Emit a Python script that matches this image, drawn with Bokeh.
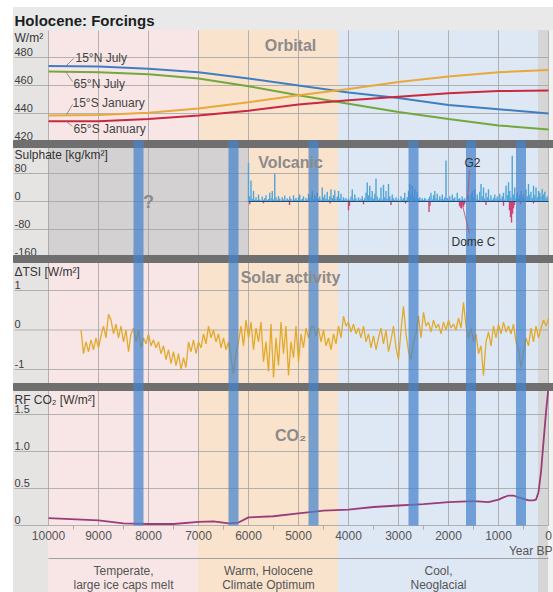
from bokeh.plotting import figure
from bokeh.models import Range1d
from bokeh.core.properties import value
from bokeh.embed import file_html
from bokeh.resources import INLINE

# ---------------------------------------------------------------- data
title = "Holocene: Forcings"

x_ticks = [10000, 9000, 8000, 7000, 6000, 5000, 4000, 3000, 2000, 1000, 0]
x_tick_labels = ["10000", "9000", "8000", "7000", "6000", "5000", "4000",
                 "3000", "2000", "1000", "0"]
x_minor_ticks = [9500, 8500, 7500, 6500, 5500, 4500, 3500, 2500, 1500, 500]

# climate periods (years BP)
period_start = [10000, 7000, 4200]
period_end = [7000, 4200, 200]
period_line1 = ["Temperate,", "Warm, Holocene", "Cool,"]
period_line2 = ["large ice caps melt", "Climate Optimum", "Neoglacial"]
recent_start, recent_end = 200, 0

# cold events (blue bands)
event_start = [8300, 6400, 4800, 2800, 1650, 650]
event_end = [8100, 6200, 4600, 2600, 1450, 450]

# --- Orbital insolation (W/m2)
orb_years = [10000, 9000, 8000, 7000, 6000, 5000, 4000, 3000, 2000, 1000, 0]
orb_15n_jul = [474, 473.5, 472, 469.5, 465, 460, 455, 451, 446, 443, 440]
orb_65n_jul = [470, 469.5, 468, 465, 459.5, 453, 447, 441, 436, 431.5, 428.5]
orb_15s_jan = [438.5, 439, 440.5, 443.5, 448, 453, 457.5, 462.5, 466.5, 469.5, 471]
orb_65s_jan = [434.5, 434.5, 436, 438.5, 442, 446.5, 449.5, 452, 454.5, 456, 456.5]
orb_names = ["15°N July", "65°N July", "15°S January", "65°S January"]
orb_ticks = [480, 460, 440, 420]
orb_tick_labels = ["480", "460", "440", "420"]

# --- Volcanic sulphate (kg/km2), 25-year steps from 6000 BP
vol_first_year, vol_step = 6000, 25
sulphate_pos = [
    110, 15, 60, 8, 31, 5, 12, 4, 20, 6, 3, 14, 5, 9, 18, 4, 7, 25, 10, 30,
    6, 80, 12, 5, 15, 8, 3, 12, 6, 17, 4, 9, 5, 14, 7, 3, 18, 6, 10, 4,
    12, 20, 5, 8, 15, 3, 10, 6, 22, 9, 14, 31, 6, 18, 10, 25, 8, 14, 5, 40,
    12, 20, 8, 28, 6, 15, 35, 10, 18, 32, 7, 14, 30, 9, 22, 5, 12, 6, 10, 4,
    8, 5, 14, 34, 6, 20, 9, 3, 12, 5, 8, 15, 4, 10, 25, 54, 18, 45, 12, 30,
    8, 22, 65, 14, 5, 10, 40, 6, 48, 12, 30, 8, 50, 15, 6, 20, 9, 4, 12, 5,
    8, 3, 15, 6, 10, 25, 4, 12, 30, 50, 20, 45, 14, 35, 10, 28, 8, 12, 5, 9,
    4, 10, 6, 3, 8, 14, 25, 6, 18, 30, 9, 22, 5, 15, 8, 20, 6, 12, 117, 10,
    6, 15, 4, 20, 8, 12, 3, 25, 7, 10, 4, 14, 6, 9, 3, 12, 18, 5, 22, 30,
    12, 35, 8, 20, 5, 28, 50, 15, 40, 8, 25, 12, 35, 6, 18, 4, 10, 20, 7, 14,
    5, 22, 8, 15, 25, 6, 45, 18, 55, 30, 12, 131, 20, 40, 10, 25, 8, 18, 30, 12,
    22, 8, 35, 15, 50, 20, 28, 10, 45, 18, 40, 12, 30, 25, 15, 35, 20, 28, 10, 15,
]
sulphate_neg_years = [5975, 5700, 5180, 4370, 4000, 3980, 3700, 3150, 2860, 2390,
                      2370, 1780, 1760, 1740, 1720, 1700, 1680, 1250, 900, 780,
                      760, 740, 720, 700, 680, 560, 300]
sulphate_neg = [-8, -5, -10, -6, -25, -12, -8, -10, -6, -30,
                -12, -12, -18, -20, -10, -15, -8, -10, -12, -25,
                -45, -60, -35, -20, -10, -8, -6]
vol_ticks = [80, 0, -80, -160]
vol_tick_labels = ["80", "0", "-80", "-160"]
vol_unknown_start, vol_unknown_end = 10000, 6000

# --- Solar activity dTSI (W/m2), 50-year steps from 9350 BP
tsi_first_year, tsi_step = 9350, 50
tsi = [
    0.0, -0.6, -0.3, -0.55, -0.25, -0.5, -0.2, -0.45, -0.15, 0.1,
    -0.2, 0.4, 0.25, -0.1, 0.15, -0.2, 0.1, -0.3, 0.0, -0.55,
    -0.1, 0.05, -0.3, 0.0, -0.45, -0.2, -0.35, -0.1, -0.4, -0.25,
    -0.45, -0.3, -0.6, -0.4, -0.75, -0.5, -0.85, -0.55, -0.9, -0.6,
    -1.0, -0.7, -0.95, -0.3, -0.55, -0.25, -0.6, -0.3, -0.45, -0.1,
    -0.35, 0.1, -0.2, 0.0, -0.3, -0.1, -0.45, -0.2, -0.5, -0.3,
    -0.7, -1.1, -0.6, -0.3, 0.1, -0.4, 0.25, -0.2, 0.2, -0.5,
    0.05, -0.3, 0.2, -0.8, -0.3, -1.05, 0.15, -1.2, -0.2, -0.9,
    0.2, -0.6, 0.1, -1.15, -0.3, -0.7, 0.1, -0.8, -0.1, -0.45,
    0.05, -0.2, 0.05, 0.1, -0.15, 0.05, -0.3, 0.0, -0.4, -0.2,
    -0.5, -0.1, -0.35, 0.1, -0.2, 0.35, 0.1, 0.2, -0.05, 0.15,
    -0.1, 0.05, -0.2, 0.1, -0.3, -0.1, -0.45, -0.15, -0.5, -0.2,
    0.05, -0.35, 0.0, -0.55, -0.25, 0.1, -0.45, -0.75, 0.0, 0.6,
    -0.1, -0.55, -0.75, -0.3, -0.1, 0.35, -0.2, 0.45, 0.1, 0.2,
    -0.05, 0.25, 0.05, 0.15, -0.1, 0.2, 0.0, 0.25, 0.05, 0.15,
    0.0, 0.3, 0.05, 0.7, 0.1, -0.2, 0.05, -0.3, -0.1, -0.6,
    -0.4, -1.15, -0.3, -0.05, -0.4, 0.1, -0.2, 0.15, -0.1, 0.2,
    -0.05, 0.1, -0.1, 0.15, -0.3, -0.5, -0.95, -0.6, -0.2, -0.4,
    0.05, -0.3, 0.1, -0.2, 0.05, 0.25, 0.1, 0.3,
]
tsi_ticks = [1, 0, -1]
tsi_tick_labels = ["1", "0", "-1"]

# --- CO2 radiative forcing (W/m2)
co2_years = [10000, 9000, 8500, 8000, 7500, 7000, 6700, 6400, 6200, 6000, 5500,
             5000, 4500, 4000, 3500, 3000, 2500, 2000, 1500, 1200, 1000, 900,
             800, 700, 600, 500, 400, 300, 250, 200, 150, 100, 50, 0]
co2_rf = [0.10, 0.07, 0.03, 0.02, 0.02, 0.05, 0.055, 0.03, 0.04, 0.11, 0.125,
          0.165, 0.20, 0.215, 0.25, 0.27, 0.29, 0.315, 0.33, 0.315, 0.35, 0.38,
          0.405, 0.405, 0.38, 0.36, 0.34, 0.34, 0.35, 0.45, 0.72, 1.13, 1.53, 1.87]
co2_ticks = [1.5, 1.0, 0.5, 0]
co2_tick_labels = ["1.5", "1.0", "0.5", "0"]

# ---------------------------------------------------------------- layout
FONT = value("Liberation Sans")
W, H = 553, 592
PAGE_X_YEAR0 = 548          # pixel x of year 0
PX_PER_YEAR = 0.05
TOP, BOTTOM = 0, H          # pixel y of figure top / bottom


def yr_at(px):
    return (PAGE_X_YEAR0 - px) / PX_PER_YEAR


def panel_range(v_ref, y_ref, px_per_unit):
    top = v_ref + (y_ref - TOP) / px_per_unit
    bot = v_ref - (BOTTOM - y_ref) / px_per_unit
    return Range1d(start=bot, end=top)


p = figure(width=W, height=H,
           x_range=Range1d(yr_at(0), yr_at(W)),
           y_range=Range1d(BOTTOM, TOP),
           x_axis_type=None, y_axis_type=None,
           output_backend="svg", toolbar_location=None, min_border=0)
p.outline_line_color = None
p.background_fill_color = "white"
p.border_fill_color = "white"

p.extra_y_ranges = {
    "orb": panel_range(480, 57, 1.4),
    "vol": panel_range(80, 173, 0.35),
    "tsi": panel_range(1, 290, 39.5),
    "co2": panel_range(1.5, 414, 74),
}

XL = yr_at(13)
XR = yr_at(W)

# backgrounds
p.quad(left=[XL], right=[XR], top=[7], bottom=[30], color="#e9e9e9")
p.quad(left=[XL], right=[10000], top=[30], bottom=[BOTTOM], color="#e6e3e3")
zone_colors = ["#f8e6e6", "#f9e3cd", "#dee7f4"]
p.quad(left=period_start, right=period_end, top=[30] * 3, bottom=[BOTTOM] * 3,
       color=zone_colors)
p.quad(left=[recent_start], right=[recent_end], top=[30], bottom=[BOTTOM], color="#d6d6d6")
p.quad(left=[0], right=[XR], top=[30], bottom=[BOTTOM], color="#f2f2f2")
p.quad(left=[vol_unknown_start], right=[vol_unknown_end], top=[147], bottom=[255],
       color="#d3d1d1")

# vertical grid
GRID = "#a2a2a2"
p.segment(x0=x_ticks, x1=x_ticks, y0=[30] * len(x_ticks), y1=[525] * len(x_ticks),
          line_color=GRID, line_width=0.8)
p.segment(x0=x_minor_ticks, x1=x_minor_ticks, y0=[525] * len(x_minor_ticks),
          y1=[529] * len(x_minor_ticks), line_color="#999999", line_width=0.8)

# horizontal grid + tick labels
panels = [("orb", orb_ticks, orb_tick_labels),
          ("vol", vol_ticks, vol_tick_labels),
          ("tsi", tsi_ticks, tsi_tick_labels),
          ("co2", co2_ticks, co2_tick_labels)]
for name, ticks, labels in panels:
    n = len(ticks)
    p.segment(x0=[yr_at(14)] * n, x1=[0] * n, y0=ticks, y1=ticks, y_range_name=name,
              line_color=GRID, line_width=0.8)
    p.text(x=[yr_at(14)] * n, y=ticks, text=labels, y_range_name=name,
           text_font=FONT, text_font_size="11px", text_color="#3c3c3c",
           text_baseline="middle", text_align="left", y_offset=-6)

# orbital lines
orb_colors = ["#3f7fc0", "#72a83c", "#e7a83c", "#c9293f"]
for series, c in zip([orb_15n_jul, orb_65n_jul, orb_15s_jan, orb_65s_jan], orb_colors):
    p.line(orb_years, series, y_range_name="orb", line_color=c, line_width=2)

# volcanic
vol_years = [vol_first_year - vol_step * i for i in range(len(sulphate_pos))]
p.segment(x0=vol_years, x1=vol_years, y0=[0] * len(vol_years), y1=sulphate_pos,
          y_range_name="vol", line_color="#4ea5d9", line_width=1.4)
p.segment(x0=sulphate_neg_years, x1=sulphate_neg_years,
          y0=[0] * len(sulphate_neg_years), y1=sulphate_neg,
          y_range_name="vol", line_color="#cc4477", line_width=1.4)
p.line([vol_first_year, 0], [0, 0], y_range_name="vol", line_color="#2e4577", line_width=1)

# solar
tsi_years = [tsi_first_year - tsi_step * i for i in range(len(tsi))]
p.line(tsi_years, tsi, y_range_name="tsi", line_color="#e2aa2c", line_width=1.3)

# CO2
p.line(co2_years, co2_rf, y_range_name="co2", line_color="#9a3c78", line_width=1.8)

# separators
SEP = "#6f6f6f"
p.quad(left=[XL] * 3, right=[XR] * 3, top=[140, 255, 383], bottom=[147, 262, 390],
       color=SEP)

# cold event bands
p.quad(left=event_start, right=event_end, top=[140] * len(event_start),
       bottom=[525] * len(event_start), fill_color="#4584cc", fill_alpha=0.72,
       line_color=None)

# ---------------------------------------------------------------- texts
p.text(x=[yr_at(14)], y=[20], text=[title], text_font=FONT, text_font_size="15px",
       text_font_style="bold", text_color="#1e1e1e", text_baseline="middle")

unit_labels = ["W/m²", "Sulphate [kg/km²]", "ΔTSI [W/m²]", "RF CO₂ [W/m²]"]
p.text(x=[yr_at(14)] * 4, y=[37, 154, 271, 399], text=unit_labels, text_font=FONT,
       text_font_size="12px", text_color="#333333", text_baseline="middle")

panel_titles = ["Orbital", "Volcanic", "Solar activity", "CO₂"]
p.text(x=[yr_at(290)] * 4, y=[45, 162, 277, 435], text=panel_titles, text_font=FONT,
       text_font_size="16px", text_font_style="bold", text_color="#8c8a8a",
       text_align="center", text_baseline="middle")

# orbital series labels with leaders
p.text(x=[yr_at(75), yr_at(73), yr_at(72), yr_at(73)], y=[57, 83, 102, 128],
       text=orb_names, text_font=FONT, text_font_size="12px", text_color="#444444",
       text_baseline="middle")
p.segment(x0=[yr_at(66), yr_at(65), yr_at(66), yr_at(66)],
          y0=[65, 71, 114, 121],
          x1=[yr_at(73), yr_at(72), yr_at(72), yr_at(72)],
          y1=[58, 81, 104, 126], line_color="#777777", line_width=0.8)

# volcanic annotations
p.text(x=[yr_at(148)], y=[201], text=["?"], text_font=FONT, text_font_size="18px",
       text_font_style="bold", text_color="#8a8a8a", text_align="center",
       text_baseline="middle")
p.text(x=[yr_at(472), yr_at(473)], y=[162, 241], text=["G2", "Dome C"], text_font=FONT,
       text_font_size="12px", text_color="#333333", text_align="center",
       text_baseline="middle")
p.segment(x0=[yr_at(469), yr_at(469)], y0=[170, 233], x1=[yr_at(467), yr_at(462)],
          y1=[199, 205], line_color="#c04a6a", line_width=0.8)

# x axis labels
p.text(x=x_ticks, y=[535] * len(x_ticks), text=x_tick_labels, text_font=FONT,
       text_font_size="12px", text_color="#555555", text_align="center",
       text_baseline="middle")
p.text(x=[yr_at(552)], y=[550], text=["Year BP"], text_font=FONT, text_font_size="12px",
       text_color="#555555", text_align="right", text_baseline="middle")
p.line([10000, 0], [558, 558], line_color="#a0a0a0", line_width=1)

period_mid = [(a + b) / 2 for a, b in zip(period_start, period_end)]
p.text(x=period_mid, y=[570] * 3, text=period_line1, text_font=FONT,
       text_font_size="12px", text_color="#555555", text_align="center",
       text_baseline="middle")
p.text(x=period_mid, y=[584] * 3, text=period_line2, text_font=FONT,
       text_font_size="12px", text_color="#555555", text_align="center",
       text_baseline="middle")

open("out.html", "w").write(file_html(p, INLINE))
